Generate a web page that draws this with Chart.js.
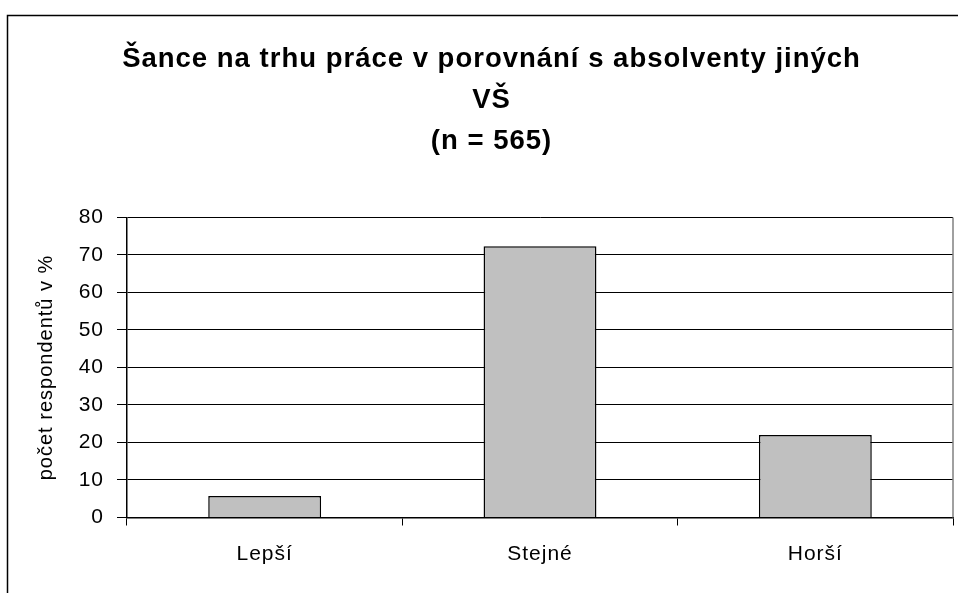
<!DOCTYPE html>
<html lang="cs">
<head>
  <meta charset="UTF-8" />
  <title>Šance na trhu práce</title>
  <script src="https://cdn.jsdelivr.net/npm/chart.js"></script>
  <style>
    html, body { margin: 0; padding: 0; background: #fff; }
    #wrap { width: 958px; height: 593px; }
  </style>
</head>
<body>
  <div id="wrap"><canvas id="barChart" width="958" height="593"></canvas></div>

  <script>
    // data
    const categories = ['Lepší', 'Stejné', 'Horší'];
    const shares = [5.7, 72.3, 22.0];
    const titleLines = ['Šance na trhu práce v porovnání s absolventy jiných', 'VŠ', '(n = 565)'];
    const yTitle = 'počet respondentů v %';
    const yMax = 80;
    const yStep = 10;

    Chart.defaults.font.family = "'Liberation Sans', Arial, sans-serif";
    Chart.defaults.color = '#000';

    // outer frame, spaced lettering and the grey right edge of the plot
    const framePlugin = {
      id: 'frame',
      beforeLayout(chart) { chart.ctx.letterSpacing = '1px'; },
      beforeDraw(chart) {
        const c = chart.ctx;
        c.letterSpacing = '1px';
        c.save();
        c.fillStyle = '#fff';
        c.fillRect(0, 0, chart.width, chart.height);
        c.strokeStyle = '#000';
        c.lineWidth = 1.5;
        c.beginPath();
        c.moveTo(7.5, chart.height);
        c.lineTo(7.5, 15.5);
        c.lineTo(chart.width, 15.5);
        c.stroke();
        c.restore();
      },
      beforeDatasetsDraw(chart) {
        const a = chart.chartArea, c = chart.ctx;
        c.save();
        c.strokeStyle = '#808080';
        c.lineWidth = 1.5;
        c.beginPath();
        c.moveTo(a.right, a.top);
        c.lineTo(a.right, a.bottom);
        c.stroke();
        c.restore();
      }
    };

    new Chart(document.getElementById('barChart'), {
      type: 'bar',
      data: {
        labels: categories,
        datasets: [{
          data: shares,
          backgroundColor: '#c0c0c0',
          borderColor: '#000',
          borderWidth: 1.5,
          categoryPercentage: 1,
          barPercentage: 0.41
        }]
      },
      options: {
        responsive: false,
        animation: false,
        layout: { padding: { top: 39, right: 5, left: 30, bottom: 0 } },
        plugins: {
          legend: { display: false },
          tooltip: { enabled: false },
          title: {
            display: true,
            text: titleLines,
            color: '#000',
            font: { size: 27.5, weight: 'bold', lineHeight: 1.49 },
            padding: { top: 0, bottom: 55.5 }
          }
        },
        scales: {
          x: {
            afterFit(s) { s.height = 75.5; },
            grid: {
              offset: true,
              drawOnChartArea: false,
              color: '#000',
              tickLength: 8,
              tickColor: '#000'
            },
            border: { color: '#000', width: 1.5 },
            ticks: { font: { size: 21 }, padding: 16 }
          },
          y: {
            min: 0,
            max: yMax,
            afterFit(s) { s.width = 97; },
            grid: {
              color: '#000',
              lineWidth: 1,
              tickLength: 10,
              tickColor: '#000'
            },
            border: { color: '#000', width: 1.5 },
            ticks: { stepSize: yStep, font: { size: 21 }, padding: 13 },
            title: {
              display: true,
              text: yTitle,
              font: { size: 20 },
              padding: { top: 4, bottom: 0 }
            }
          }
        }
      },
      plugins: [framePlugin]
    });
  </script>
</body>
</html>
